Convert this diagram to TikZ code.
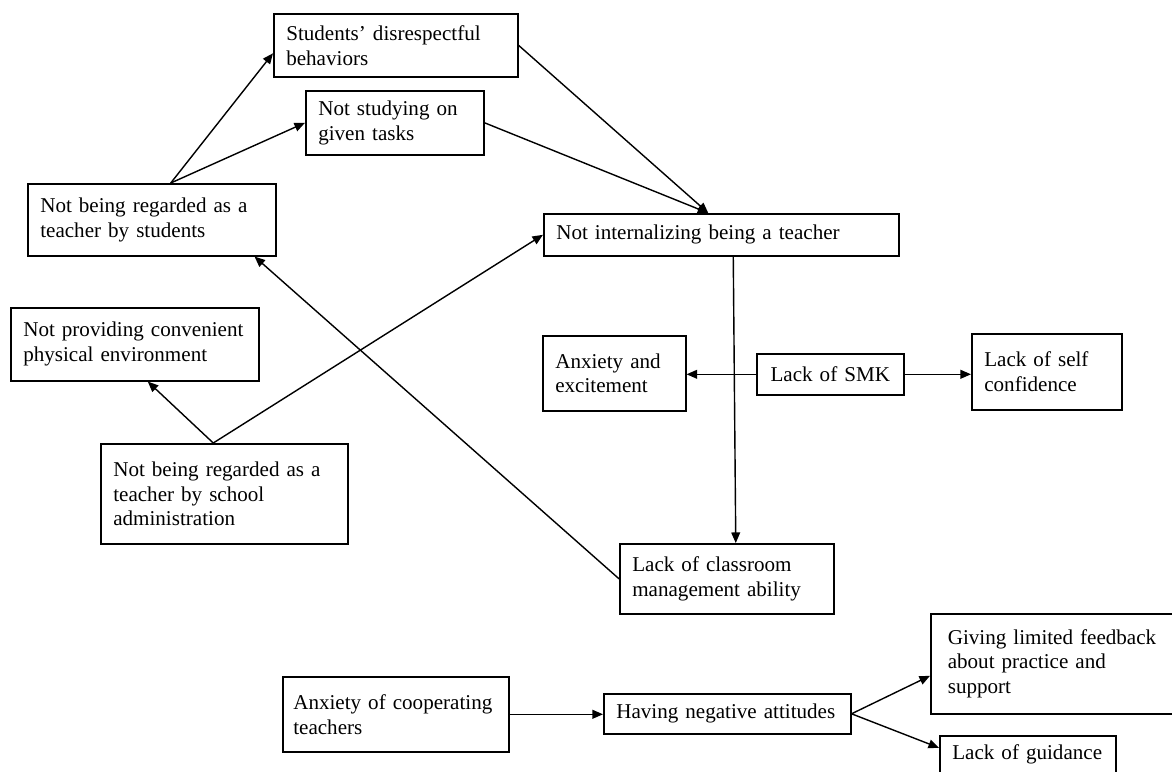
\documentclass[tikz,border=0pt]{standalone}
\usepackage{fontspec}
\setmainfont{Liberation Serif}
\usetikzlibrary{calc, arrows.meta}
\tikzset{
    box/.style={draw, line width=0.9pt, anchor=north west, align=left,
        inner xsep=0.25cm, font=\fontsize{12}{14.2}\selectfont},
    link/.style={->, line width=0.8pt}
}

\begin{document}
\begin{tikzpicture}[
    x=0.02cm,
    y=-0.02cm,
    >={Triangle[length=6pt,width=5pt]}
]
\useasboundingbox (0,0) rectangle (1172,771);
\clip (0,0) rectangle (1172,771);

% --- students side ---
\node[box, text width=4.38cm, minimum height=1.26cm] (sdb) at (273,13) {Students' disrespectful\\behaviors};
\node[box, text width=3.06cm, minimum height=1.28cm] (nsgt) at (305,90) {Not studying on\\given tasks};
\node[box, text width=4.46cm, minimum height=1.44cm] (nbrs) at (27,183) {Not being regarded as a\\teacher by students};
\node[box, text width=6.6cm, minimum height=0.84cm] (nit) at (543,213) {Not internalizing being a teacher};

% --- school administration ---
\node[box, text width=4.46cm, minimum height=1.46cm] (npc) at (10,307) {Not providing convenient\\physical environment};
\node[box, text width=4.44cm, minimum height=2cm] (nbrsa) at (100,443) {Not being regarded as a\\teacher by school\\administration};

% --- subject matter knowledge ---
\node[box, text width=2.36cm, minimum height=1.5cm] (ae) at (542,335) {Anxiety and\\excitement};
\node[box, align=center, text width=2.44cm, minimum height=0.82cm] (smk) at (756,353) {Lack of SMK};
\node[box, text width=2.5cm, minimum height=1.52cm] (lsc) at (971,333) {Lack of self\\confidence};
\node[box, text width=3.78cm, minimum height=1.4cm] (lcm) at (619,543) {Lack of classroom\\management ability};

% --- cooperating teachers ---
\node[box, text width=4.1cm, inner xsep=0.21cm, minimum height=1.5cm] (aoc) at (282,676) {Anxiety of cooperating\\teachers};
\node[box, text width=4.44cm, minimum height=0.8cm] (hna) at (603,693) {Having negative attitudes};
\node[box, text width=4.5cm, inner xsep=0.34cm, minimum height=2cm] (glf) at (930,613) {Giving limited feedback\\about practice and\\support};
\node[box, text width=3.02cm, minimum height=0.76cm] (log) at (939,735) {Lack of guidance};

% Pfeile
\draw[link] ($(nbrs.north)+(19,0)$) -- ($(sdb.west)+(0,8)$);
\draw[link] ($(nbrs.north)+(19,0)$) -- (nsgt.west);
\draw[link] (sdb.east) -- ($(nit.north)+(-13,0)$);
\draw[link] (nsgt.east) -- ($(nit.north)+(-13,0)$);
\draw[link] ($(nbrsa.north)+(-11,0)$) -- ($(npc.south)+(13,0)$);
\draw[link] ($(nbrsa.north)+(-11,0)$) -- (nit.west);
\draw[link] (lcm.west) -- ($(nbrs.south east)+(-22,0)$);
\draw[link] ($(nit.south)+(12,0)$) -- ($(lcm.north)+(9,0)$);
\draw[link] (smk.west) -- (smk.west -| ae.east);
\draw[link] (smk.east) -- (smk.east -| lsc.west);
\draw[link] (aoc.east) -- (aoc.east -| hna.west);
\draw[link] (hna.east) -- ($(glf.west)+(0,12)$);
\draw[link] (hna.east) -- ($(log.west)+(0,-7)$);

\end{tikzpicture}
\end{document}
